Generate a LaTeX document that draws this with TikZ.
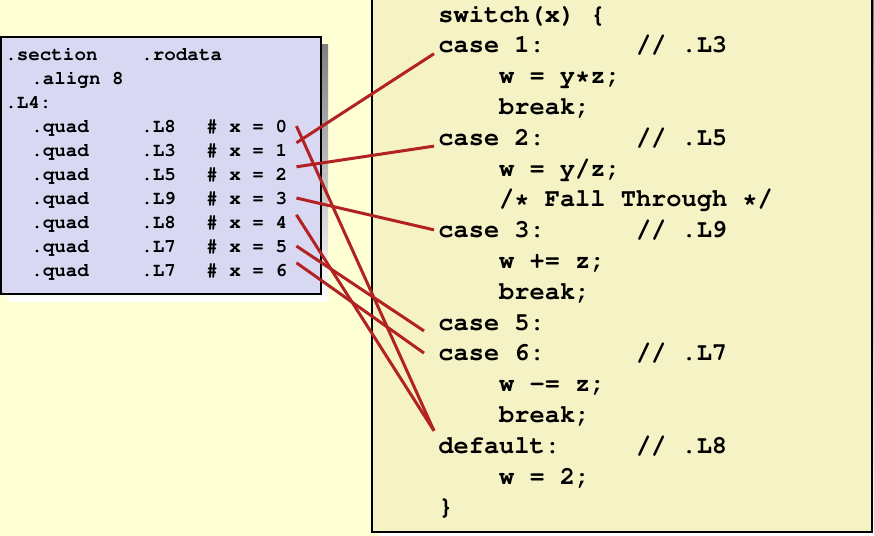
\documentclass[tikz,border=0pt]{standalone}
\usepackage[T1]{fontenc}
\usepackage{courier}
\definecolor{pagebg}{HTML}{FFFFD6}
\definecolor{codebg}{HTML}{F5F3C5}
\definecolor{tablebg}{HTML}{D8D8F2}
\definecolor{shade}{HTML}{9C9C90}
\definecolor{jumpred}{HTML}{B22222}
\tikzset{
  asm/.style={anchor=base west, inner sep=0pt, font=\ttfamily\bfseries\fontsize{9.6}{11}\selectfont},
  src/.style={anchor=base west, inner ysep=0pt, inner xsep=2pt, font=\ttfamily\bfseries\fontsize{12.67}{15}\selectfont},
  jump/.style={jumpred, line width=1.5pt},
}
\begin{document}
\begin{tikzpicture}[x=.5pt,y=-.5pt]
    \useasboundingbox (0,0) rectangle (874,536);
    \fill[pagebg] (0,0) rectangle (874,536);
    % jump table
    \fill[shade] (8,44) rectangle (328,301);
    \draw[line width=.8pt, fill=tablebg] (1,37) rectangle (321,294);
    \node[asm] (sec) at (5,60) {.section};
    \node[asm] (ro) at (141,60) {.rodata};
    \node[asm] (al) at (31,84) {.align 8};
    \node[asm] (tbl) at (5,108) {.L4:};
    \foreach \lbl [count=\i from 0] in {L8,L3,L5,L9,L8,L7,L7} {
      \node[asm] (q\i) at (31,132+24*\i) {.quad};
      \node[asm] (t\i) at (141,132+24*\i) {.\lbl};
      \node[asm, inner xsep=4.5pt] (x\i) at (197,132+24*\i) {\# x = \i};
    }
    % switch code
    \fill[shade] (379,-3) rectangle (879,539);
    \draw[line width=.8pt, fill=codebg] (372,-10) rectangle (872,532);
    \foreach \ind/\txt [count=\i from 0] in {0/switch(x) \{, 0/case 1:, 4/w = y*z;,
        4/break;, 0/case 2:, 4/{w = y/z;}, 4/{/* Fall Through */}, 0/case 3:,
        4/w += z;, 4/break;, 0/case 5:, 0/case 6:, 4/w -= z;, 4/break;,
        0/default:, 4/w = 2;, 0/\}}
      \node[src] (l\i) at (434+15.2*\ind,22+30.8*\i) {\txt};
    \foreach \i/\lbl in {1/L3, 4/L5, 7/L9, 11/L7, 14/L8}
      \node[src] (cm\i) at (631.6,22+30.8*\i) {// .\lbl};
    % targets
    \draw[jump] (x0.east) -- ([yshift=3pt]l14.north west);
    \draw[jump] (x1.north east) -- (l1.south west);
    \draw[jump] (x2.north east) -- (l4.south west);
    \draw[jump] (x3.east) -- (l7.west);
    \draw[jump] (x4.north east) -- ([yshift=3pt]l14.north west);
    \draw[jump] (x5.east) -- ([xshift=-5pt]l10.south west);
    \draw[jump] (x6.north east) -- ([xshift=-5pt]l11.west);
\end{tikzpicture}
\end{document}
